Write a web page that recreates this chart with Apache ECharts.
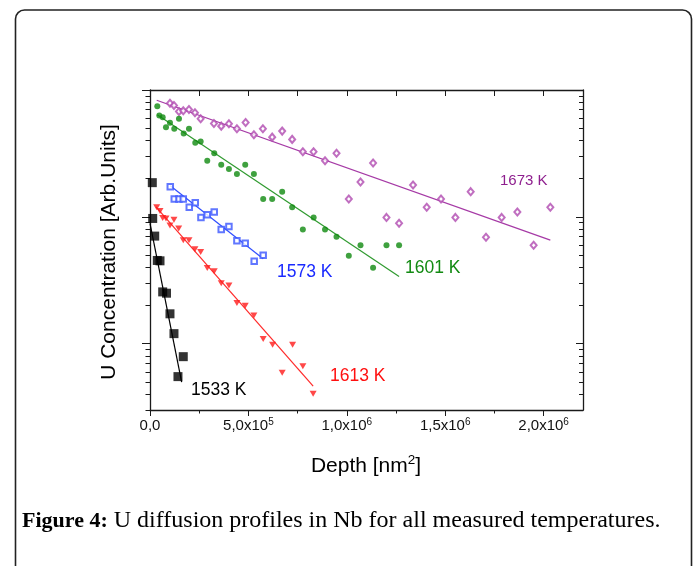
<!DOCTYPE html>
<html>
<head>
<meta charset="utf-8">
<script src="https://cdn.jsdelivr.net/npm/echarts@6/dist/echarts.min.js"></script>
<style>html,body{margin:0;padding:0;background:#fff;}#c{width:694px;height:566px;}</style>
</head>
<body>
<div id="c"></div>
<script>
// ---- data (depth in nm^2, concentration in arb. units) ----
var purpleX = [101500,121800,147200,169000,198000,228400,257400,324900,361900,401000,441600,485800,527900,573600,620800,671600,722300,776600,831000,889300,947700,1010100,1069500,1133500,1201500,1265500,1336500,1406000,1478600,1551700,1629400,1707100,1786800,1866500,1949200,2034000];
var purpleY = [78.6,75.4,67.6,68.5,70.2,66.1,59.3,54.5,51.9,54.2,49.5,55.4,44.4,49.5,42.5,47.4,40.8,32.6,32.6,27.7,31.7,13.8,18.8,26.6,9.9,8.9,17.8,11.9,13.8,9.9,15.8,6.9,9.9,10.9,5.96,11.9];
var greenX = [37100,47200,64500,81200,101500,123300,147200,171100,198000,230000,257400,290900,326400,361900,401000,441600,483800,527900,575100,620800,671600,722300,776600,831500,889300,947700,1010100,1069500,1133500,1201500,1265500];
var greenY = [74.5,62.9,61.0,50.9,55.2,49.5,59.3,45.4,49.5,38.4,39.3,27.7,31.7,25.8,23.8,21.8,25.8,21.8,13.8,13.8,15.8,11.9,7.96,9.9,7.96,6.97,4.94,5.96,3.97,5.96,5.96];
var blueX = [103000,123300,147200,169000,199500,230000,258900,290900,326400,361900,401000,441600,483800,529400,575100];
var blueY = [17.3,13.8,13.8,13.8,11.9,12.9,9.9,10.4,10.9,7.96,8.41,6.47,6.19,4.46,4.97];
var redX = [34000,50800,64500,81200,101500,121800,145700,169000,198000,228400,257400,290900,326400,361900,401000,441600,483800,527900,575100,622800,671600,724400,776600,828900];
var redY = [11.9,11.1,9.77,9.7,8.56,9.47,8.11,6.54,6.54,5.54,5.28,3.95,3.72,3.0,2.87,2.09,1.99,1.67,1.09,0.98,0.589,0.98,0.663,0.403];
var blackX = [11700,13700,23900,37100,50800,64500,83800,101500,121800,142100,169000];
var blackY = [18.6,9.71,7.05,4.53,4.50,2.56,2.50,1.72,1.20,0.55,0.79];

// fitted lines (end points)
var purpleFitX = [34000,2034000], purpleFitY = [83,6.56];
var greenFitX = [37100,1265500], greenFitY = [63.7,3.38];
var blueFitX = [103000,575100], blueFitY = [17.6,4.68];
var redFitX = [30500,828900], redFitY = [12.0,0.462];
var blackFitX = [0,160900], blackFitY = [8.88,0.497];

// axes / ticks
var xMajor = [0,500000,1000000,1500000,2000000];
var xMinor = [250000,750000,1250000,1750000];
var xTop = [250000,500000,750000,1000000,1250000,1500000,1750000,2000000];
var xTickMant = ['0,0','5,0x10','1,0x10','1,5x10','2,0x10'];
var xTickExp = ['','5','6','6','6'];
var yMin = 0.3, yMax = 100;
var yMajor = [1,10,100];
var yMinor = [0.3,0.4,0.5,0.6,0.7,0.8,0.9,2,3,4,5,6,7,8,9,20,30,40,50,60,70,80,90];
var seriesNames = ['1673 K','1601 K','1573 K','1613 K','1533 K'];

function zip(a,b){return a.map(function(v,i){return [v,b[i]];});}
function lg(a){return a.map(function(v){return Math.log(v)/Math.LN10;});}

var FONT = '"Liberation Sans", Arial, sans-serif';
var SERIF = '"Liberation Serif", "Times New Roman", serif';
var AX = '#1a1a1a';
var chart = echarts.init(document.getElementById('c'), null, {renderer:'canvas'});

function decoY(pos, vals, len, inside, showLine){
  return {type:'value', position:pos, min:lg([yMin])[0], max:2, gridIndex:0,
    axisLine:{show:showLine, onZero:false, lineStyle:{color:AX, width:1.3}},
    axisTick:{show:true, inside:inside, length:len, customValues:lg(vals), lineStyle:{color:AX, width:1}},
    axisLabel:{show:false}, splitLine:{show:false}};
}

var option = {
  animation:false,
  backgroundColor:'#fff',
  grid:{left:150, top:90, width:433, height:320, containLabel:false, outerBoundsMode:'none'},
  xAxis:[
    {type:'value', position:'bottom', min:0, max:2200000,
      axisLine:{show:true, onZero:false, lineStyle:{color:AX, width:1.3}},
      axisTick:{show:true, inside:false, length:6, customValues:xMajor, lineStyle:{color:AX}},
      axisLabel:{show:true, customValues:xMajor, margin:7, color:'#111', fontFamily:FONT, fontSize:15,
        formatter:function(v){var i=xMajor.indexOf(v); if(i<0) return ''; return xTickExp[i] ? '{m|'+xTickMant[i]+'}{s|'+xTickExp[i]+'}' : '{m|'+xTickMant[i]+'}';},
        rich:{m:{fontSize:15, fontFamily:FONT, color:'#111', lineHeight:18},
              s:{fontSize:10, fontFamily:FONT, color:'#111', verticalAlign:'top', lineHeight:10}}},
      splitLine:{show:false}},
    {type:'value', position:'bottom', min:0, max:2200000,
      axisLine:{show:false, onZero:false},
      axisTick:{show:true, inside:false, length:3.5, customValues:xMinor, lineStyle:{color:AX}},
      axisLabel:{show:false}, splitLine:{show:false}},
    {type:'value', position:'top', min:0, max:2200000,
      axisLine:{show:true, onZero:false, lineStyle:{color:AX, width:1.3}},
      axisTick:{show:true, inside:true, length:6, customValues:xTop, lineStyle:{color:AX}},
      axisLabel:{show:false}, splitLine:{show:false}}
  ],
  yAxis:[
    {type:'log', logBase:10, min:yMin, max:yMax, position:'left',
      axisLine:{show:false, onZero:false}, axisTick:{show:false}, axisLabel:{show:false}, splitLine:{show:false}},
    decoY('left', yMajor, 8, false, true),
    decoY('left', yMinor, 4.5, false, false),
    decoY('right', yMajor, 7, true, true),
    decoY('right', yMinor, 4, true, false)
  ],
  series:[
    {type:'line', data:zip(purpleFitX,purpleFitY), showSymbol:false, lineStyle:{color:'#a63aa6', width:1.2}, z:2},
    {type:'line', data:zip(greenFitX,greenFitY), showSymbol:false, lineStyle:{color:'#2f9a2f', width:1.2}, z:2},
    {type:'line', data:zip(blueFitX,blueFitY), showSymbol:false, lineStyle:{color:'#2f4dff', width:1.2}, z:2},
    {type:'line', data:zip(redFitX,redFitY), showSymbol:false, lineStyle:{color:'#ff2a2a', width:1.2}, z:2},
    {type:'line', data:zip(blackFitX,blackFitY), showSymbol:false, lineStyle:{color:'#000', width:1.2}, z:2},
    {name:seriesNames[0], type:'scatter', data:zip(purpleX,purpleY), symbol:'emptyDiamond', symbolSize:[6,7],
      itemStyle:{color:'#b04ab0', borderWidth:0.9}, z:3},
    {name:seriesNames[1], type:'scatter', data:zip(greenX,greenY), symbol:'circle', symbolSize:6,
      itemStyle:{color:'#0f8a0f'}, z:3},
    {name:seriesNames[2], type:'scatter', data:zip(blueX,blueY), symbol:'emptyRect', symbolSize:5.5,
      itemStyle:{color:'#3a55ff', borderWidth:0.9}, z:3},
    {name:seriesNames[3], type:'scatter', data:zip(redX,redY), symbol:'triangle', symbolRotate:180, symbolSize:[7,6],
      itemStyle:{color:'#ff1a1a'}, z:3},
    {name:seriesNames[4], type:'scatter', data:zip(blackX,blackY), symbol:'rect', symbolSize:9,
      itemStyle:{color:'#000'}, z:3}
  ],
  graphic:[
    {type:'rect', shape:{x:15.5, y:10, width:676, height:620, r:9}, style:{fill:'none', stroke:'#222', lineWidth:1.6}, z:0},
    {type:'text', x:500, y:181, style:{text:seriesNames[0], fill:'#8e1f8e', font:'15px '+FONT, textVerticalAlign:'middle'}},
    {type:'text', x:405, y:268, style:{text:seriesNames[1], fill:'#128a12', font:'17.5px '+FONT, textVerticalAlign:'middle'}},
    {type:'text', x:277, y:272, style:{text:seriesNames[2], fill:'#1a2aff', font:'17.5px '+FONT, textVerticalAlign:'middle'}},
    {type:'text', x:330, y:376, style:{text:seriesNames[3], fill:'#ff1010', font:'17.5px '+FONT, textVerticalAlign:'middle'}},
    {type:'text', x:191, y:390, style:{text:seriesNames[4], fill:'#000', font:'17.5px '+FONT, textVerticalAlign:'middle'}},
    {type:'text', x:366, y:466, style:{text:'{a|Depth [nm}{s|2}{a|]}', textAlign:'center', textVerticalAlign:'middle',
      rich:{a:{fontSize:21, fontFamily:FONT, fill:'#000', lineHeight:25}, s:{fontSize:13.5, fontFamily:FONT, fill:'#000', verticalAlign:'top', lineHeight:13}}}},
    {type:'text', x:109, y:252, rotation:Math.PI/2, style:{text:'U Concentration [Arb.Units]', fill:'#000', font:'21px '+FONT, textAlign:'center', textVerticalAlign:'middle'}},
    {type:'text', x:22, y:521, style:{text:'{b|Figure 4:}{n| U diffusion profiles in Nb for all measured temperatures.}', textVerticalAlign:'middle',
      rich:{b:{fontSize:22, fontWeight:'bold', fontFamily:SERIF, fill:'#000'},
            n:{fontSize:24, fontFamily:SERIF, fill:'#000'}}}}
  ]
};
chart.setOption(option);
</script>
</body>
</html>
